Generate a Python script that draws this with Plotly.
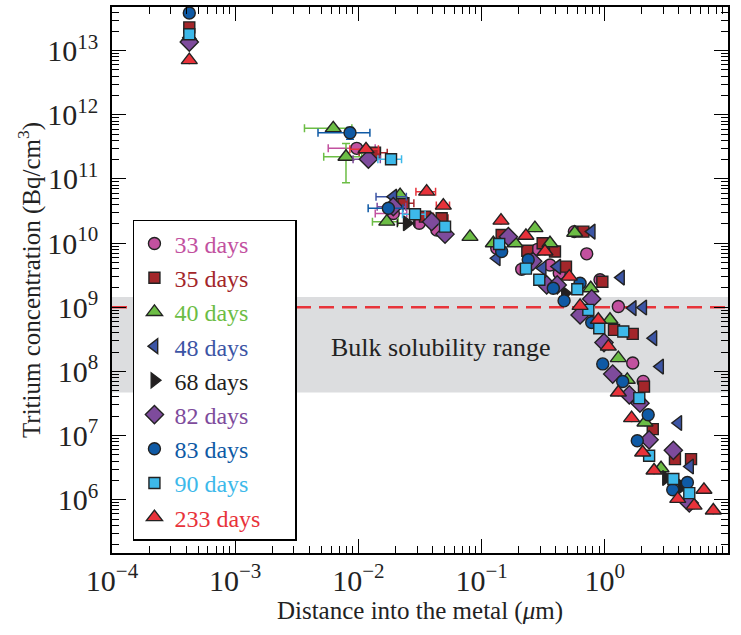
import plotly.graph_objects as go

# ---------------- data ----------------
series_names = ["33 days", "35 days", "40 days", "48 days", "68 days",
                "82 days", "83 days", "90 days", "233 days"]

x33 = [4.24e-4, 9.69e-3, 1.92e-2, 3.12e-2, 4.33e-2, 0.1327, 0.285, 0.2116, 0.359, 0.427,
       0.713, 0.566, 0.914, 1.288, 1.685, 2.05]
y33 = [1.45e13, 3.0e11, 2.9e10, 2.04e10, 1.6e10, 8.3e9, 8.0e9, 3.9e9, 4.57e9, 3.4e9,
       6.8e9, 1.51e10, 2.69e9, 1.03e9, 1.35e8, 7.0e7]
ex33 = [0, 4.0e-3, 5.5e-3, 7e-3, 0, 0, 0, 0, 0, 0, 0, 0, 0, 0, 0, 0]

x35 = [4.24e-4, 1.364e-2, 2.32e-2, 3.47e-2, 4.74e-2, 0.1455, 0.235, 0.313, 0.394, 0.484,
       0.67, 0.955, 1.188, 1.685, 2.08, 2.45, 3.71, 5.01]
y35 = [2.3e13, 2.57e11, 4.18e10, 2.59e10, 2.44e10, 1.34e10, 7.6e9, 9.95e9, 7.4e9, 4.3e9,
       1.51e10, 2.5e9, 4.45e8, 3.85e8, 5.8e7, 1.26e7, 4.3e6, 4.3e6]
ex35 = [0, 3.5e-3, 5e-3, 6e-3, 6e-3, 0, 0, 0, 0, 0, 0, 0, 0, 0, 0, 0, 0, 0]

x40 = [4.24e-4, 6.25e-3, 7.93e-3, 2.18e-2, 1.70e-2, 8.05e-2, 0.1245, 0.1866, 0.271, 0.359,
       0.57, 0.769, 1.102, 1.288, 1.522, 2.12, 2.86]
y40 = [1.6e13, 6.16e11, 2.22e11, 5.6e10, 2.16e10, 1.25e10, 9.95e9, 9.95e9, 1.71e10, 9.95e9,
       1.45e10, 1.98e9, 6.4e8, 1.61e8, 7.4e7, 1.6e7, 3.1e6]
ex40 = [0, 2.6e-3, 2.7e-3, 0, 4e-3, 0, 0, 0, 0, 0, 0, 0, 0, 0, 0, 0, 0]
ey40 = [0, 0, 1.35e11, 0, 0, 0, 0, 0, 0, 0, 0, 0, 0, 0, 0, 0, 0]

x48 = [4.24e-4, 1.92e-2, 0.1327, 0.313, 0.411, 0.783, 1.353, 1.685, 2.05, 2.48, 2.81, 3.95, 4.92]
y48 = [1.6e13, 5.3e10, 5.8e9, 4.06e9, 4.3e9, 1.51e10, 2.9e9, 9.7e8, 9.9e8, 3.3e8, 1.19e8,
       1.57e7, 3.3e6]
ex48 = [0, 5.3e-3, 0, 0, 0, 0, 0, 0, 0, 0, 0, 0, 0]

x68 = [4.24e-4, 2.47e-2, 0.475, 3.14, 4.21]
y68 = [1.55e13, 2.04e10, 1.66e9, 2.18e6, 1.61e6]
ex68 = [0, 4e-3, 0, 0, 0]

x82 = [4.24e-4, 1.205e-2, 1.92e-2, 3.93e-2, 5.05e-2, 0.165, 0.26, 0.3376, 0.411, 0.783,
       0.63, 0.985, 1.159, 1.58, 1.93, 2.29, 3.6, 4.85]
y82 = [1.36e13, 2.03e11, 3.7e10, 2.16e10, 1.38e10, 1.26e10, 5.2e9, 2.23e9, 2.23e9, 1.35e9,
       7.6e8, 2.82e8, 9.1e7, 4.3e7, 3.2e7, 8.6e6, 5.9e6, 8.9e5]
ex82 = [0, 3e-3, 5e-3, 0, 0, 0, 0, 0, 0, 0, 0, 0, 0, 0, 0, 0, 0, 0]

x83 = [4.24e-4, 8.55e-3, 1.75e-2, 0.1455, 0.239, 0.382, 0.63, 0.467, 0.783, 0.962,
       1.397, 2.25, 1.835, 4.68, 3.56]
y83 = [3.85e13, 5.26e11, 3.5e10, 7.4e9, 5.5e9, 1.98e9, 2.37e9, 1.26e9, 5.8e8, 1.31e8,
       6.96e7, 2.11e7, 8.3e6, 1.86e6, 1.43e6]
ex83 = [0, 3.85e-3, 5.5e-3, 0, 0, 0, 0, 0, 0, 0, 0, 0, 0, 0, 0]
ey83 = [0, 1.1e11, 0, 0, 0, 0, 0, 0, 0, 0, 0, 0, 0, 0, 0]

x90 = [4.24e-4, 1.84e-2, 2.88e-2, 5.05e-2, 0.139, 0.229, 0.294, 0.598, 0.735, 0.902,
       1.413, 1.905, 2.29, 3.6, 4.85]
y90 = [1.8e13, 2.03e11, 2.82e10, 1.81e10, 9.7e9, 4.0e9, 2.69e9, 1.91e9, 9.1e8, 4.7e8,
       4.2e8, 3.84e7, 4.85e6, 2.1e6, 1.27e6]
ex90 = [0, 4e-3, 6e-3, 5e-3, 0, 0, 0, 0, 0, 0, 0, 0, 0, 0, 0]

x233 = [4.24e-4, 1.153e-2, 3.58e-2, 4.89e-2, 0.1437, 0.229, 0.327, 0.515, 0.63, 0.886,
        1.068, 1.288, 1.65, 2.03, 2.51, 6.38, 3.91, 5.3, 7.6]
y233 = [7.1e12, 2.9e11, 6.34e10, 3.84e10, 2.24e10, 1.3e10, 7.4e9, 3.0e9, 1.05e9, 6.4e8,
        2.44e8, 4.7e7, 1.87e7, 5.46e6, 2.86e6, 1.43e6, 1.03e6, 8.1e5, 6.8e5]
ex233 = [0, 3e-3, 6.5e-3, 6e-3, 0, 0, 0, 0, 0, 0, 0, 0, 0, 0, 0, 0, 0, 0, 0]

bulk_low, bulk_high = 4.7e7, 1.44e9
bulk_line = 1e9

x_tickvals = [1e-4, 1e-3, 1e-2, 1e-1, 1e0, 1e1]
x_ticktext = ["10<sup>−4</sup>", "10<sup>−3</sup>", "10<sup>−2</sup>", "10<sup>−1</sup>",
              "10<sup>0</sup>", "10<sup>1</sup>"]
y_tickvals = [1e6, 1e7, 1e8, 1e9, 1e10, 1e11, 1e12, 1e13]
y_ticktext = ["10<sup>6</sup>", "10<sup>7</sup>", "10<sup>8</sup>", "10<sup>9</sup>",
              "10<sup>10</sup>", "10<sup>11</sup>", "10<sup>12</sup>", "10<sup>13</sup>"]

# ---------------- styling ----------------
FONT = "Liberation Serif"
colors = ["#C2519F", "#A3262A", "#6CBD45", "#3C55A5", "#231F20",
          "#7E4B9C", "#0F5AA5", "#3DB9EA", "#E8323A"]
symbols = ["circle", "square", "triangle-up", "triangle-left", "triangle-right",
           "diamond", "circle", "square", "triangle-up"]
sizes = [12, 11, 14, 13, 13, 14, 12, 11, 14]

data = [
    (x33, y33, ex33, None), (x35, y35, ex35, None), (x40, y40, ex40, ey40),
    (x48, y48, ex48, None), (x68, y68, ex68, None), (x82, y82, ex82, None),
    (x83, y83, ex83, ey83), (x90, y90, ex90, None), (x233, y233, ex233, None),
]

PAD = "\u00a0" * 5

fig = go.Figure()
for i, (xs, ys, exs, eys) in enumerate(data):
    c = colors[i]
    tr = dict(
        x=xs, y=ys, mode="markers",
        name=f'<span style="color:{c}">{series_names[i]}</span>{PAD}',
        marker=dict(symbol=symbols[i], size=sizes[i], color=c,
                    line=dict(color="#222222", width=1.4)),
        error_x=dict(type="data", array=exs, color=c, thickness=1.5, width=4),
    )
    if eys is not None:
        tr["error_y"] = dict(type="data", array=eys, color=c, thickness=1.5, width=4)
    fig.add_trace(go.Scatter(**tr))

fig.add_shape(type="rect", xref="paper", x0=0, x1=1, yref="y", y0=bulk_low, y1=bulk_high,
              fillcolor="#DCDDDF", line=dict(width=0), layer="below")
fig.add_shape(type="line", xref="paper", x0=0, x1=1, yref="y", y0=bulk_line, y1=bulk_line,
              line=dict(color="#E8343A", width=2.5, dash="15px,8px"), layer="below")

fig.add_annotation(text="Bulk solubility range", xref="paper", yref="paper",
                   x=0.534, y=0.377, showarrow=False,
                   font=dict(family=FONT, size=26, color="#222222"))

axis_common = dict(
    type="log", showline=True, linecolor="black", linewidth=1.5, mirror="ticks",
    ticks="inside", ticklen=14, tickwidth=1.3, tickcolor="black", showgrid=False,
    zeroline=False, tickmode="array", automargin=False,
    tickfont=dict(family=FONT, size=30, color="#222222"),
    minor=dict(ticks="inside", ticklen=7, tickwidth=1, tickcolor="black", dtick="D1",
               showgrid=False),
)

fig.update_xaxes(range=[-4, 1], tickvals=x_tickvals, ticktext=x_ticktext,
                 ticklabelstandoff=0,
                 title=dict(text="Distance into the metal (<i>μ</i>m)",
                            font=dict(family=FONT, size=25, color="#222222"), standoff=0),
                 **axis_common)
fig.update_yaxes(range=[5.17, 13.68], tickvals=y_tickvals, ticktext=y_ticktext,
                 ticklabelstandoff=6,
                 title=dict(text="Tritium concentration (Bq/cm<sup>3</sup>)",
                            font=dict(family=FONT, size=25, color="#222222"), standoff=0),
                 **axis_common)

fig.update_layout(
    width=741, height=635,
    margin=dict(l=112, r=13, t=7, b=82),
    paper_bgcolor="white", plot_bgcolor="white",
    font=dict(family=FONT, color="#222222"),
    legend=dict(x=0.034, y=0.61, xanchor="left", yanchor="top",
                bgcolor="white", bordercolor="black", borderwidth=1.5,
                font=dict(family=FONT, size=24), itemwidth=30, tracegroupgap=0),
    showlegend=True,
)

fig.write_html("out.html", config={"displayModeBar": False},
               post_script="document.body.style.margin='0px';")
